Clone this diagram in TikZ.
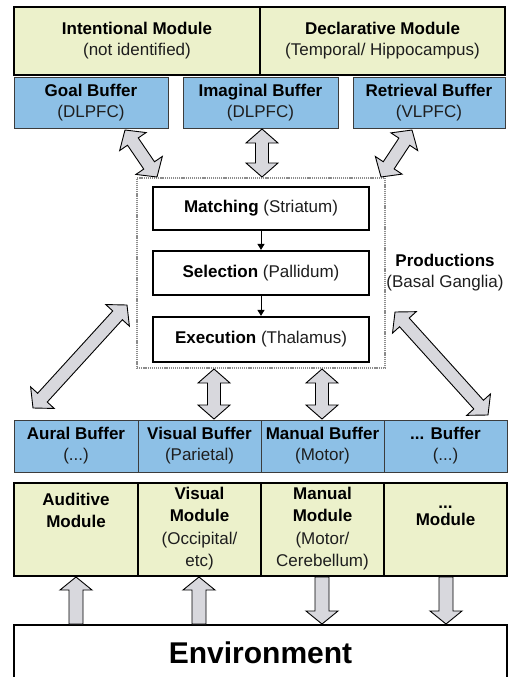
\documentclass[tikz,border=0pt]{standalone}
\usepackage{fontspec}
\setmainfont{Liberation Sans}
\usetikzlibrary{calc,arrows.meta}
\definecolor{modfill}{RGB}{236,241,203}
\definecolor{buffill}{RGB}{141,192,230}
\definecolor{arrfill}{RGB}{216,216,221}
\definecolor{bufline}{RGB}{60,60,60}
\definecolor{txtgray}{RGB}{30,30,30}
\definecolor{dotgray}{RGB}{140,140,140}
% double-headed block arrow between two named coordinates
\newcommand\dblarr[2]{%
  \draw[blockarr] (#1)
   -- ($(#1)!14pt!(#2)!16pt!90:(#2)$)
   -- ($(#1)!14pt!(#2)!6.5pt!90:(#2)$)
   -- ($(#2)!14pt!(#1)!6.5pt!-90:(#1)$)
   -- ($(#2)!14pt!(#1)!16pt!-90:(#1)$)
   -- (#2)
   -- ($(#2)!14pt!(#1)!16pt!90:(#1)$)
   -- ($(#2)!14pt!(#1)!6.5pt!90:(#1)$)
   -- ($(#1)!14pt!(#2)!6.5pt!-90:(#2)$)
   -- ($(#1)!14pt!(#2)!16pt!-90:(#2)$)
   -- cycle;}
% single-headed block arrow from #1 to #2
\newcommand\sglarr[2]{%
  \draw[blockarr] ($(#1)!7pt!90:(#2)$)
   -- ($(#2)!13pt!(#1)!7pt!-90:(#1)$)
   -- ($(#2)!13pt!(#1)!16pt!-90:(#1)$)
   -- (#2)
   -- ($(#2)!13pt!(#1)!16pt!90:(#1)$)
   -- ($(#2)!13pt!(#1)!7pt!90:(#1)$)
   -- ($(#1)!7pt!-90:(#2)$)
   -- cycle;}
\newcommand\twol[2]{\textbf{#1}\\{\color{txtgray}#2}}
\begin{document}
\begin{tikzpicture}[x=1pt,y=-1pt,
  every node/.style={font=\fontsize{17}{21}\selectfont, inner sep=0pt, align=center},
  module/.style={draw=black, line width=2pt, fill=modfill},
  buffer/.style={draw=bufline, line width=0.9pt, fill=buffill},
  procbox/.style={draw=black, line width=2.2pt, fill=white, minimum width=216pt},
  blockarr/.style={draw=black, line width=0.9pt, fill=arrfill, line join=miter},
  small/.style={-{Triangle[length=6pt,width=7pt]}, line width=1pt}]
\useasboundingbox (0,0) rectangle (508,677);
% top modules
\node[module, minimum width=246pt, minimum height=68pt] (int) at (137,41)
  {\twol{Intentional Module}{(not identified)}};
\node[module, minimum width=245pt, minimum height=68pt] (dec) at (382.5,41)
  {\twol{Declarative Module}{(Temporal/ Hippocampus)}};
% top buffers
\node[buffer, minimum width=154pt, minimum height=51pt] (goal) at (91,103)
  {\twol{Goal Buffer}{(DLPFC)}};
\node[buffer, minimum width=155pt, minimum height=51pt] (imag) at (260.5,103)
  {\twol{Imaginal Buffer}{(DLPFC)}};
\node[buffer, minimum width=152pt, minimum height=51pt] (retr) at (429,103)
  {\twol{Retrieval Buffer}{(VLPFC)}};
% productions
\node[draw=dotgray, line width=2pt, dash pattern=on 1.2pt off 0.9pt,
  minimum width=248pt, minimum height=190pt] (prod) at (261,273) {};
\node[procbox, minimum height=43pt] (match) at (261,208.5)
  {\textbf{Matching} {\color{txtgray}(Striatum)}};
\node[procbox, minimum height=44pt] (sel) at (261,273)
  {\textbf{Selection} {\color{txtgray}(Pallidum)}};
\node[procbox, minimum height=45pt] (exe) at (261,339.5)
  {\textbf{Execution} {\color{txtgray}(Thalamus)}};
\node (prodlab) at (445,273) {\twol{Productions}{(Basal Ganglia)}};
\draw[small] (match.south) -- (sel.north);
\draw[small] (sel.south) -- (exe.north);
% lower buffers
\node[buffer, minimum width=124pt, minimum height=52pt] (aural) at (76,446)
  {\twol{Aural Buffer}{(...)}};
\node[buffer, minimum width=123pt, minimum height=52pt] (visb) at (199.5,446)
  {\twol{Visual Buffer}{(Parietal)}};
\node[buffer, minimum width=123pt, minimum height=52pt] (manb) at (322.5,446)
  {\twol{Manual Buffer}{(Motor)}};
\node[buffer, minimum width=123pt, minimum height=52pt] (dotb) at (445.5,446)
  {\twol{... Buffer}{(...)}};
% lower modules
\node[module, minimum width=124pt, minimum height=93pt] (audm) at (76,529.5) {};
\node[module, minimum width=123pt, minimum height=93pt] (vism) at (199.5,529.5) {};
\node[module, minimum width=123pt, minimum height=93pt] (manm) at (322.5,529.5) {};
\node[module, minimum width=123pt, minimum height=93pt] (dotm) at (445.5,529.5) {};
\node[font=\fontsize{17}{21.5}\selectfont\bfseries, anchor=north] (audt) at (76,493)
  {Auditive\\Module};
\node[font=\fontsize{17}{22.3}\selectfont, anchor=north] (vist) at (199.5,487)
  {\textbf{Visual}\\\textbf{Module}\\{\color{txtgray}(Occipital/}\\{\color{txtgray}etc)}};
\node[font=\fontsize{17}{22.3}\selectfont, anchor=north] (mant) at (322.5,487)
  {\textbf{Manual}\\\textbf{Module}\\{\color{txtgray}(Motor/}\\{\color{txtgray}Cerebellum)}};
\node[font=\fontsize{17}{17}\selectfont\bfseries, anchor=north] (dott) at (445.5,506)
  {...\\Module};
% environment
\node[draw=black, line width=1.2pt, fill=white, minimum width=493pt, minimum height=56pt,
  font=\fontsize{30}{36}\selectfont\bfseries] (env) at (260.5,653) {Environment};
% arrow end points
\coordinate (g1) at (125,130);  \coordinate (g2) at (157,177);
\coordinate (i1) at (262,129);  \coordinate (i2) at (262,177);
\coordinate (r1) at (412,130);  \coordinate (r2) at (381,177);
\coordinate (l1) at (127,305);  \coordinate (l2) at (33,408);
\coordinate (q1) at (395,312);  \coordinate (q2) at (488,415);
\coordinate (v1) at (214,369);  \coordinate (v2) at (214,419);
\coordinate (m1) at (322,369);  \coordinate (m2) at (322,419);
\coordinate (e1) at (76,624);   \coordinate (e2) at (76,577);
\coordinate (e3) at (199,624);  \coordinate (e4) at (199,577);
\coordinate (e5) at (322,577);  \coordinate (e6) at (322,624);
\coordinate (e7) at (446,577);  \coordinate (e8) at (446,624);
\dblarr{g1}{g2}
\dblarr{i1}{i2}
\dblarr{r1}{r2}
\dblarr{l1}{l2}
\dblarr{q1}{q2}
\dblarr{v1}{v2}
\dblarr{m1}{m2}
\sglarr{e1}{e2}
\sglarr{e3}{e4}
\sglarr{e5}{e6}
\sglarr{e7}{e8}
\end{tikzpicture}
\end{document}
